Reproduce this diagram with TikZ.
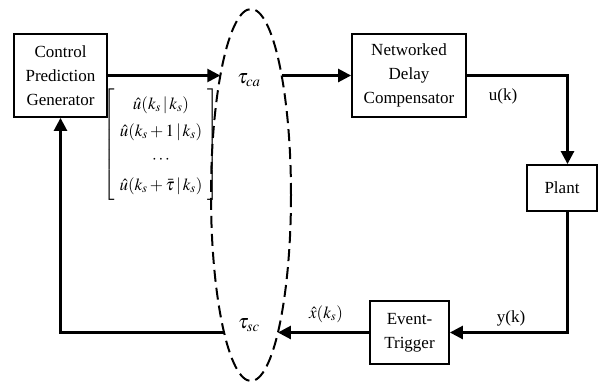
\documentclass[tikz,border=0pt]{standalone}
\usepackage{mathptmx}
\usepackage{fontspec}
\setmainfont{Liberation Serif}
\usetikzlibrary{shapes.geometric,arrows.meta}
\newlength{\du}
\setlength{\du}{10pt}
\definecolor{dialinecolor}{rgb}{0.000000, 0.000000, 0.000000}
\tikzset{
  dia text/.style={inner sep=0pt, align=center, font=\fontsize{17}{24}\selectfont},
  dia delay/.style={inner sep=0pt, font=\fontsize{20}{24}\selectfont},
  dia box/.style={dia text, draw=dialinecolor, line width=0.180000\du, fill=white},
  dia line/.style={draw=dialinecolor, line width=0.260000\du},
  dia arrow/.style={dia line, -{Triangle[length=13pt,width=13pt]}},
}

\begin{document}
\begin{tikzpicture}
\pgftransformxscale{1.000000}
\pgftransformyscale{-1.000000}
\useasboundingbox (0\du,0\du) rectangle (59.800000\du,38.100000\du);
% setfont left to latex
\node[dia box, minimum width=9.300000\du, minimum height=8.300000\du] (generator) at (6.050000\du,7.550000\du){Control\\Prediction\\Generator};
\node[dia box, minimum width=11.400000\du, minimum height=8.300000\du] (compensator) at (40.900000\du,7.550000\du){Networked\\Delay\\Compensator};
\node[dia box, minimum width=7.000000\du, minimum height=4.600000\du] (plant) at (56.200000\du,18.800000\du){Plant};
\node[dia box, minimum width=7.900000\du, minimum height=6.300000\du] (trigger) at (40.950000\du,33.250000\du){Event-\\Trigger};
% network
\node[ellipse, draw=dialinecolor, line width=0.200000\du, dash pattern=on 12pt off 6pt, minimum width=8.000000\du, minimum height=37.200000\du, inner sep=0pt] (network) at (25.100000\du,19.500000\du){};
\coordinate (caIn) at (22.030000\du,7.550000\du);
\coordinate (caOut) at (28.170000\du,7.550000\du);
\coordinate (scIn) at (27.790000\du,33.250000\du);
\coordinate (scOut) at (22.410000\du,33.250000\du);
\coordinate (corner) at (56.750000\du,7.550000\du);
% setfont left to latex
\node[dia delay] (tauca) at (24.900000\du,8.000000\du){$\tau_{ca}$};
\node[dia delay] (tausc) at (24.900000\du,32.500000\du){$\tau_{sc}$};
\node[dia text] (uk) at (50.300000\du,9.600000\du){u(k)};
\node[dia text] (yk) at (51.100000\du,31.800000\du){y(k)};
\node[dia text] (xhat) at (32.600000\du,31.400000\du){$\hat{x}(k_{s})$};
\renewcommand{\arraystretch}{1.35}
\node[dia text, font=\fontsize{17}{20}\selectfont] (predictions) at (16.100000\du,14.450000\du){$\left[\begin{array}{c}\hat{u}(k_{s}\,|\,k_{s})\\ \hat{u}(k_{s}+1\,|\,k_{s})\\ \cdots\\ \hat{u}(k_{s}+\bar{\tau}\,|\,k_{s})\end{array}\right]$};
% connectors
\draw[dia arrow] (generator.east) -- (caIn);
\draw[dia arrow] (caOut) -- (compensator.west);
\draw[dia arrow] (compensator.east) -- (corner) -- (corner |- plant.north);
\draw[dia arrow] (corner |- plant.south) -- (corner |- trigger.east) -- (trigger.east);
\draw[dia arrow] (trigger.west) -- (scIn);
\draw[dia arrow] (scOut) -- (scOut -| generator.south) -- (generator.south);
\end{tikzpicture}
\end{document}
